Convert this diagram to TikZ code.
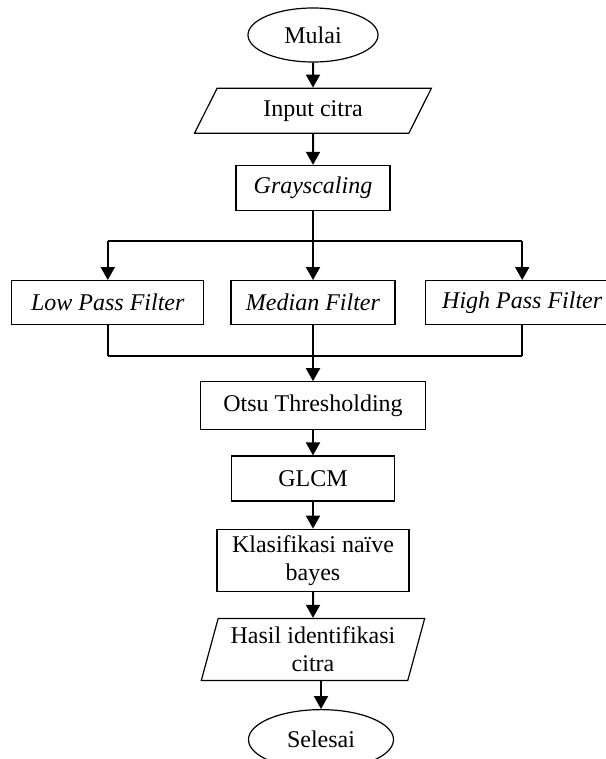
\documentclass[tikz,border=0pt]{standalone}
\usepackage{fontspec}
\setmainfont{Liberation Serif}
\usetikzlibrary{arrows.meta,positioning,shapes.geometric}

\begin{document}
\begin{tikzpicture}[>={Triangle[width=7pt,length=6.5pt]},line width=1pt,
        node distance=13pt,font=\fontsize{12}{14}\selectfont,
        box/.style={draw,line width=0.6pt,rectangle,inner sep=2pt,align=center},
        terminal/.style={draw,line width=0.6pt,ellipse,inner sep=0pt},
        io/.style={draw,line width=0.6pt,trapezium,trapezium stretches=true,
          inner sep=1pt,align=center}]

  \useasboundingbox (0,0) rectangle (302.5pt,-379.5pt);

  \node[terminal,minimum width=65pt,minimum height=27pt] (mulai) at (156.5pt,-17.5pt) {Mulai};
  \node[io,trapezium left angle=64,trapezium right angle=116,
        minimum width=119pt,minimum height=22.5pt] (input) [below=12.5pt of mulai] {Input citra};
  \node[box,minimum width=77pt,minimum height=22.5pt] (gray) [below=15.5pt of input] {\textit{Grayscaling}};
  \node[box,minimum width=82pt,minimum height=22pt] (median) [below=34.5pt of gray] {\textit{Median Filter}};
  \node[box,minimum width=96pt,minimum height=22pt] (lowpass) [left=13pt of median] {\textit{Low Pass Filter}};
  \node[box,minimum width=97pt,minimum height=22pt] (highpass) [right=14.5pt of median] {\textit{High Pass Filter}};
  \node[box,minimum width=112.5pt,minimum height=24pt] (otsu) [below=28pt of median] {Otsu Thresholding};
  \node[box,minimum width=81.5pt,minimum height=22.5pt] (glcm) [below=12.5pt of otsu] {GLCM};
  \node[box,minimum width=96pt,minimum height=31pt] (klasifikasi) [below=13.5pt of glcm] {Klasifikasi naïve\\bayes};
  \node[io,trapezium left angle=73,trapezium right angle=107,
        minimum width=112.5pt,minimum height=31pt] (hasil) [below=of klasifikasi] {Hasil identifikasi\\citra};
  \node[terminal,minimum width=72.5pt,minimum height=30pt] (selesai) [below=14pt of hasil,xshift=4pt] {Selesai};

  \coordinate[above=19.5pt of median.north] (split);
  \coordinate[below=15.5pt of median.south] (join);

  \draw[->] (mulai) -- (input);
  \draw[->] (input) -- (gray);
  \draw (gray) -- (split);
  \draw (split -| lowpass) -- (split -| highpass);
  \draw (join -| lowpass) -- (join -| highpass);
  \foreach \f in {lowpass,median,highpass} {
    \draw[->] (split -| \f) -- (\f);
    \draw (\f) -- (join -| \f);
  }
  \draw[->] (join) -- (otsu);
  \draw[->] (otsu) -- (glcm);
  \draw[->] (glcm) -- (klasifikasi);
  \draw[->] (klasifikasi) -- (hasil);
  \draw[->] (hasil.south -| selesai) -- (selesai);

\end{tikzpicture}
\end{document}
